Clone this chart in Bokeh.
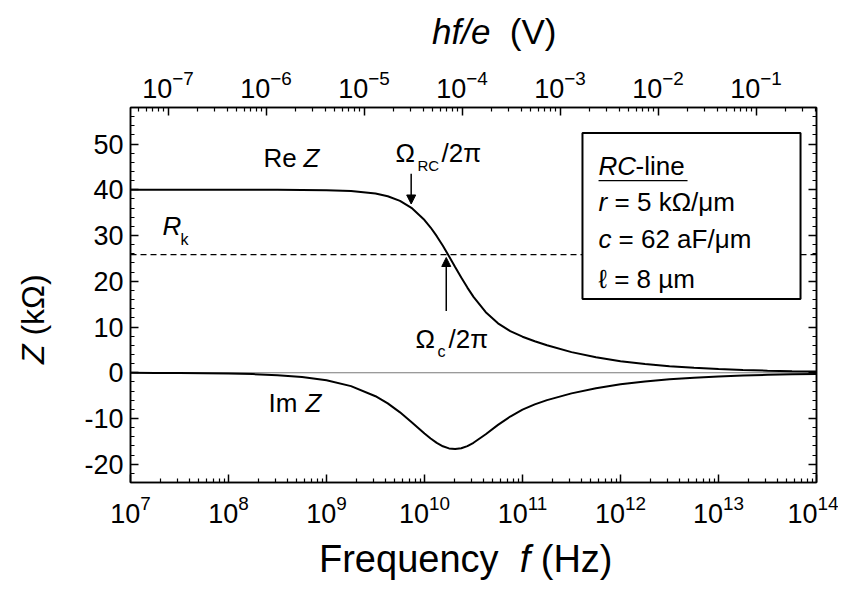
import math
from bokeh.plotting import figure
from bokeh.layouts import column, row
from bokeh.models import (Range1d, LogScale, LogAxis, LinearAxis, FixedTicker, Label, Span, Div,
                          Arrow, NormalHead, BoxAnnotation, CustomJSTickFormatter, LogTickFormatter)
from bokeh.embed import file_html
from bokeh.resources import INLINE

# ---------------- data ----------------
log10_freq = [7.0, 7.25, 7.5, 7.75, 8.0, 8.25, 8.5, 8.75, 9.0, 9.25, 9.5, 9.625, 9.75, 9.875,
              10.0, 10.0625, 10.125, 10.1875, 10.25, 10.3125, 10.375, 10.4375, 10.5, 10.625,
              10.75, 10.875, 11.0, 11.125, 11.25, 11.5, 11.75, 12.0, 12.25, 12.5, 12.75,
              13.0, 13.25, 13.5, 13.75, 14.0]
re_z = [40.00, 40.00, 40.00, 40.00, 40.00, 40.00, 39.99, 39.97, 39.92, 39.74, 39.19, 38.59, 37.57, 35.92,
        33.39, 31.75, 29.86, 27.75, 25.48, 23.14, 20.82, 18.62, 16.59, 13.23,
        10.81, 9.11, 7.88, 6.88, 6.00, 4.51, 3.38, 2.53, 1.90, 1.42, 1.07,
        0.80, 0.60, 0.45, 0.34, 0.25]
im_z = [-0.017, -0.030, -0.053, -0.093, -0.166, -0.296, -0.526, -0.935, -1.66, -2.93, -5.13, -6.71, -8.66, -10.92,
        -13.29, -14.39, -15.34, -16.08, -16.54, -16.69, -16.51, -16.04, -15.32, -13.44,
        -11.40, -9.57, -8.08, -6.92, -5.99, -4.51, -3.38, -2.53, -1.90, -1.42, -1.07,
        -0.80, -0.60, -0.45, -0.34, -0.25]
R_K = 25.813            # von Klitzing resistance, kOhm
H_OVER_E = 4.135667e-15  # V*s
x_tick_exponents = [7, 8, 9, 10, 11, 12, 13, 14]
top_tick_exponents = [-7, -6, -5, -4, -3, -2, -1]
y_ticks = [-20, -10, 0, 10, 20, 30, 40, 50]
y_minor = [v for v in range(-24, 59, 2)]

freq = [10 ** e for e in log10_freq]
FONT = "Liberation Sans"
BLACK = "black"
TICK_SIZE = "27px"

p = figure(width=770, height=485, x_axis_type="log", x_range=(1e7, 1e14), y_range=(-24, 58),
           output_backend="svg", toolbar_location=None, title=None,
           min_border_left=62, min_border_right=22, min_border_top=55, min_border_bottom=55)
p.grid.visible = False
p.outline_line_color = BLACK
p.outline_line_width = 1.5
p.background_fill_color = "white"
p.border_fill_color = "white"


def style_axis(ax):
    ax.axis_line_color = BLACK
    ax.axis_line_width = 1.5
    ax.major_tick_line_color = BLACK
    ax.major_tick_line_width = 1.5
    ax.minor_tick_line_color = BLACK
    ax.minor_tick_line_width = 1.2
    ax.major_tick_in = 8
    ax.major_tick_out = 0
    ax.minor_tick_in = 4
    ax.minor_tick_out = 0
    ax.major_label_text_font = FONT
    ax.major_label_text_font_size = TICK_SIZE
    ax.major_label_text_color = BLACK


# bottom axis
xminor = [m * 10.0 ** k for k in range(7, 14) for m in range(2, 10)]
xa = p.xaxis[0]
xa.ticker = FixedTicker(ticks=[10.0 ** e for e in x_tick_exponents], minor_ticks=xminor)
xa.formatter = LogTickFormatter()
style_axis(xa)
xa.major_label_standoff = 12

# left axis (plain hyphen minus, as in the reference)
ya = p.yaxis[0]
ya.ticker = FixedTicker(ticks=y_ticks, minor_ticks=y_minor)
ya.formatter = CustomJSTickFormatter(code="return tick.toFixed(0)")
style_axis(ya)
ya.major_label_standoff = 7

# top axis: hf/e
p.extra_x_ranges = {"hfe": Range1d(H_OVER_E * 1e7, H_OVER_E * 1e14)}
p.extra_x_scales = {"hfe": LogScale()}
tminor = [m * 10.0 ** k for k in range(-8, 0) for m in range(2, 10)
          if H_OVER_E * 1e7 <= m * 10.0 ** k <= H_OVER_E * 1e14]
top = LogAxis(x_range_name="hfe",
              ticker=FixedTicker(ticks=[10.0 ** e for e in top_tick_exponents], minor_ticks=tminor),
              formatter=LogTickFormatter())
style_axis(top)
top.major_label_standoff = 10
p.add_layout(top, "above")

# right axis (ticks only)
right = LinearAxis(ticker=FixedTicker(ticks=y_ticks, minor_ticks=y_minor),
                   formatter=CustomJSTickFormatter(code="return ''"))
style_axis(right)
p.add_layout(right, "right")

# reference lines (underlay, so that the parameter box hides the dashed line)
p.add_layout(Span(location=0, dimension="width", line_color="#7a7a7a", line_width=1.2, level="underlay"))
p.add_layout(Span(location=R_K, dimension="width", line_color=BLACK, line_width=1.3,
                  line_dash="6 4", level="underlay"))

# parameter box
p.add_layout(BoxAnnotation(left=10 ** 11.612, right=10 ** 13.837, bottom=16.1, top=52.4,
                           fill_color="white", fill_alpha=1.0, line_color=BLACK, line_alpha=1.0,
                           line_width=2, level="underlay"))

# curves
p.line(freq, re_z, line_color=BLACK, line_width=2)
p.line(freq, im_z, line_color=BLACK, line_width=2)

# arrows
p.add_layout(Arrow(end=NormalHead(size=9, fill_color=BLACK, line_color=BLACK),
                   x_start=10 ** 9.864, y_start=43.5, x_end=10 ** 9.864, y_end=36.9,
                   line_color=BLACK, line_width=1.5))
p.add_layout(Arrow(end=NormalHead(size=9, fill_color=BLACK, line_color=BLACK),
                   x_start=10 ** 10.222, y_start=13.5, x_end=10 ** 10.222, y_end=25.2,
                   line_color=BLACK, line_width=1.5))


def lab(text, lx, y, size=26, style="normal", xo=0, yo=0):
    # small lift so that the glyph baseline sits on the given value
    lift = 0.37 * size
    p.add_layout(Label(x=10 ** lx, y=y, text=text, x_offset=xo, y_offset=yo + lift,
                       text_font=FONT, text_font_size=f"{size}px", text_font_style=style,
                       text_baseline="alphabetic", text_align="left", text_color=BLACK))


# curve annotations
lab("Re", 8.357, 44.8)
lab("Z", 8.357, 44.8, style="italic", xo=40)
lab("Im", 8.408, -8.8)
lab("Z", 8.408, -8.8, style="italic", xo=37)
lab("R", 7.327, 29.9, style="italic")
lab("k", 7.327, 29.9, size=16, xo=18, yo=-9)
lab("Ω", 9.704, 45.9)
lab("RC", 9.704, 45.9, size=15, xo=22, yo=-8)
lab("/2π", 9.704, 45.9, xo=46)
lab("Ω", 9.908, 5.2)
lab("c", 9.908, 5.2, size=16, xo=22, yo=-8)
lab("/2π", 9.908, 5.2, xo=33)

# box texts
lab("RC", 11.776, 43.0, style="italic")
lab("-line", 11.776, 43.0, xo=37)
p.segment(x0=[10 ** 11.776], y0=[42.0], x1=[10 ** 12.684], y1=[42.0], line_color=BLACK, line_width=1.3)
lab("r", 11.776, 35.3, style="italic")
lab("= 5 kΩ/μm", 11.776, 35.3, xo=16)
lab("c", 11.776, 27.1, style="italic")
lab("= 62 aF/μm", 11.776, 27.1, xo=20)
lab("ℓ = 8 µm", 11.776, 18.5)

# axis titles as HTML text around the figure
BASE = "font-family:'Liberation Sans',Arial,sans-serif;color:black;white-space:nowrap;position:absolute;"
top_title = Div(width=838, height=52, margin=0, text=(
    '<div style="position:relative;width:838px;height:52px;overflow:visible;">'
    f'<span style="{BASE}left:432px;top:14px;font-size:35px;line-height:35px;">'
    '<i>hf/e</i>&nbsp;&nbsp;(V)</span></div>'))
left_title = Div(width=68, height=485, margin=0, text=(
    '<div style="position:relative;width:68px;height:485px;overflow:visible;">'
    f'<span style="{BASE}left:17px;top:312px;font-size:32px;line-height:32px;'
    'transform-origin:0 0;transform:rotate(-90deg);">'
    '<i>Z</i>&nbsp;(kΩ)</span></div>'))
bottom_title = Div(width=838, height=53, margin=0, text=(
    '<div style="position:relative;width:838px;height:53px;overflow:visible;">'
    f'<span style="{BASE}left:319px;top:3px;font-size:38px;line-height:38px;">'
    'Frequency&nbsp;&nbsp;<i>f</i>&nbsp;(Hz)</span></div>'))

layout = column(top_title, row(left_title, p, spacing=0), bottom_title, spacing=0)

open("out.html", "w").write(file_html(layout, INLINE))
